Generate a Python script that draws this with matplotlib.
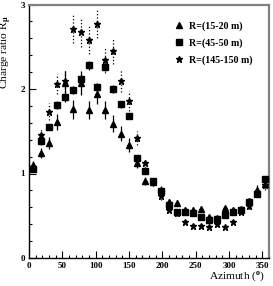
import matplotlib
matplotlib.use("Agg")
import matplotlib.pyplot as plt
from matplotlib.ticker import MultipleLocator

azimuth = [6, 18, 30, 42, 54, 66, 78, 90, 102, 114, 126, 138, 150, 162, 174,
           186, 198, 210, 222, 234, 246, 258, 270, 282, 294, 306, 318, 330, 342, 354]

r_tri = [1.10, 1.24, 1.36, 1.61, 2.07, 1.76, 2.07, 1.75, 1.94, 1.75, 1.59, 1.47, 1.34, 1.13, 0.91,
         0.90, 0.80, 0.66, 0.65, 0.57, 0.57, 0.58, 0.48, 0.47, 0.59, 0.57, 0.58, 0.67, 0.81, 0.88]
e_tri = [0.05, 0.06, 0.07, 0.10, 0.14, 0.11, 0.14, 0.11, 0.12, 0.11, 0.10, 0.09, 0.08, 0.06, 0.05,
         0.05, 0.05, 0.04, 0.04, 0.03, 0.03, 0.03, 0.03, 0.03, 0.03, 0.03, 0.03, 0.04, 0.05, 0.05]

r_sq = [1.05, 1.38, 1.55, 1.81, 1.90, 1.99, 2.12, 2.28, 2.02, 2.26, 2.00, 1.82, 1.68, 1.18, 1.03,
        0.91, 0.79, 0.63, 0.55, 0.55, 0.53, 0.48, 0.45, 0.46, 0.51, 0.55, 0.57, 0.66, 0.76, 0.93]
e_sq = [0.03, 0.04, 0.04, 0.05, 0.05, 0.05, 0.05, 0.05, 0.05, 0.05, 0.05, 0.04, 0.04, 0.03, 0.03,
        0.03, 0.02, 0.02, 0.02, 0.02, 0.02, 0.02, 0.02, 0.02, 0.02, 0.02, 0.02, 0.02, 0.03, 0.03]

r_star = [1.08, 1.46, 1.73, 2.06, 2.10, 2.71, 2.67, 2.58, 2.77, 2.34, 2.45, 2.09, 1.86, 1.42, 1.12,
          0.90, 0.73, 0.57, 0.53, 0.43, 0.38, 0.38, 0.37, 0.40, 0.37, 0.43, 0.55, 0.61, 0.78, 0.86]
e_star = [0.06, 0.08, 0.10, 0.12, 0.14, 0.17, 0.17, 0.17, 0.17, 0.15, 0.15, 0.13, 0.12, 0.08, 0.06,
          0.05, 0.04, 0.03, 0.03, 0.02, 0.02, 0.02, 0.02, 0.02, 0.02, 0.02, 0.03, 0.03, 0.04, 0.05]

labels = ["R=(15-20 m)", "R=(45-50 m)", "R=(145-150 m)"]

plt.rcParams['font.family'] = ['Liberation Serif', 'DejaVu Serif']
plt.rcParams['font.weight'] = 'bold'
plt.rcParams['mathtext.fontset'] = 'custom'
plt.rcParams['mathtext.rm'] = 'Liberation Serif:bold'
plt.rcParams['mathtext.it'] = 'Liberation Serif:bold'

fig = plt.figure(figsize=(2.73, 2.86), dpi=100)
ax = fig.add_axes([29/273, 1-258/286, 240/273, 253.5/286])

handles = []
for vals, errs, mk, ms, ls in [(r_tri, e_tri, '^', 4.2, '-'),
                                (r_sq, e_sq, 's', 4.5, '-'),
                                (r_star, e_star, '*', 5.0, ':')]:
    eb = ax.errorbar(azimuth, vals, yerr=errs, xerr=3, fmt=mk, color='black',
                     markersize=ms, elinewidth=0.9, capsize=0, zorder=3)
    for bl in eb[2]:
        bl.set_linestyle(ls)
    handles.append(eb[0])

ax.set_xlim(0, 360)
ax.set_ylim(0, 3)
ax.xaxis.set_major_locator(MultipleLocator(50))
ax.xaxis.set_minor_locator(MultipleLocator(10))
ax.yaxis.set_major_locator(MultipleLocator(1))
ax.yaxis.set_minor_locator(MultipleLocator(0.2))
ax.tick_params(which='both', direction='in', top=False, right=False, labelsize=6.5, pad=3)
ax.tick_params(which='major', length=5, width=0.8)
ax.tick_params(which='minor', length=2.5, width=0.8)

for s in ['left', 'bottom']:
    ax.spines[s].set_color('black')
    ax.spines[s].set_linewidth(1.0)
for s in ['top', 'right']:
    ax.spines[s].set_color('#808080')
    ax.spines[s].set_linewidth(1.6)

ax.set_xlabel("Azimuth ($^{o}$)", fontsize=8.2, loc='right', labelpad=2)
ax.set_ylabel("Charge ratio R$_{\\mu}$", fontsize=8.2, loc='top', labelpad=6)
ax.yaxis.set_label_coords(-0.062, 0.958)
ax.xaxis.set_label_coords(0.985, -0.045)

leg = ax.legend(handles, labels, loc='upper right', frameon=False, fontsize=7.2,
                handlelength=1.0, handletextpad=0.5, labelspacing=0.75,
                bbox_to_anchor=(0.97, 0.97))

fig.savefig("out.png", dpi=100)
